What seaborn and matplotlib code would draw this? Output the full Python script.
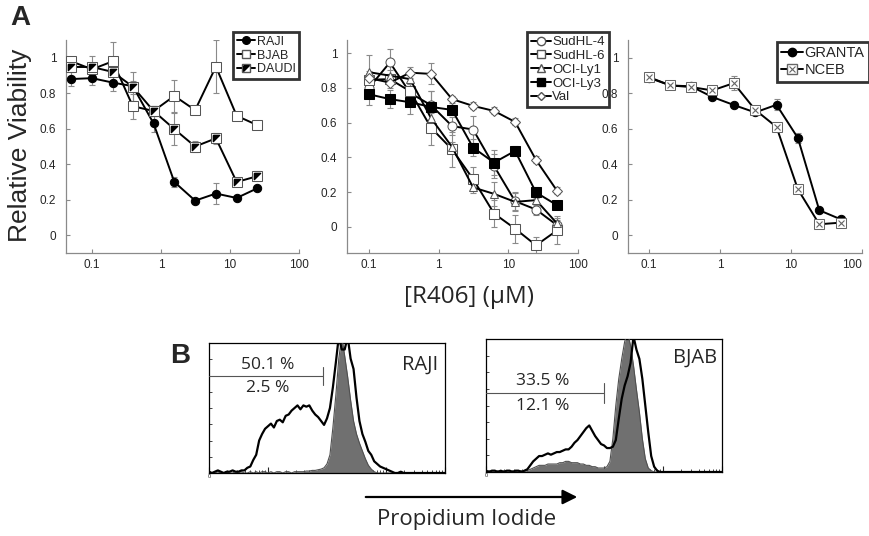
import numpy as np
import matplotlib
matplotlib.use("Agg")
import matplotlib.pyplot as plt
from matplotlib.lines import Line2D
import seaborn as sns

# ---- panel A data: doubling dilutions of R406 (uM) ----
conc_a1 = [0.05, 0.1, 0.2, 0.39, 0.78, 1.56, 3.125, 6.25, 12.5, 25]
conc_a2 = [0.1, 0.2, 0.39, 0.78, 1.56, 3.125, 6.25, 12.5, 25, 50]

raji = [0.88, 0.885, 0.86, 0.84, 0.63, 0.30, 0.195, 0.235, 0.21, 0.265]
raji_err = [0.04, 0.04, 0.05, 0.03, 0.05, 0.03, 0.0, 0.06, 0.0, 0.0]
bjab = [0.98, 0.935, 0.98, 0.727, 0.70, 0.785, 0.705, 0.95, 0.673, 0.62]
bjab_err = [0.02, 0.02, 0.11, 0.07, 0.03, 0.09, 0.0, 0.15, 0.0, 0.0]
daudi = [0.948, 0.948, 0.92, 0.837, 0.70, 0.598, 0.50, 0.546, 0.30, 0.333]
daudi_err = [0.0, 0.06, 0.0, 0.08, 0.03, 0.09, 0.03, 0.03, 0.0, 0.03]

sudhl4 = [0.80, 0.946, 0.77, 0.70, 0.58, 0.56, 0.35, 0.148, 0.10, 0.01]
sudhl4_err = [0.03, 0.08, 0.05, 0.08, 0.05, 0.08, 0.07, 0.05, 0.03, 0.03]
sudhl6 = [0.846, 0.85, 0.78, 0.57, 0.446, 0.275, 0.077, -0.01, -0.106, -0.02]
sudhl6_err = [0.05, 0.03, 0.07, 0.10, 0.10, 0.07, 0.08, 0.08, 0.05, 0.08]
ocily1 = [0.89, 0.87, 0.85, 0.625, 0.46, 0.227, 0.19, 0.144, 0.154, 0.02]
ocily1_err = [0.10, 0.03, 0.03, 0.03, 0.03, 0.03, 0.07, 0.05, 0.03, 0.03]
ocily3 = [0.763, 0.735, 0.717, 0.69, 0.673, 0.456, 0.37, 0.437, 0.198, 0.125]
ocily3_err = [0.06, 0.05, 0.07, 0.09, 0.03, 0.05, 0.07, 0.03, 0.03, 0.02]
val = [0.856, 0.83, 0.887, 0.88, 0.735, 0.696, 0.667, 0.604, 0.385, 0.208]
val_err = [0.03, 0.03, 0.03, 0.06, 0.02, 0.02, 0.02, 0.02, 0.02, 0.02]

granta = [0.887, 0.844, 0.839, 0.779, 0.734, 0.692, 0.735, 0.548, 0.141, 0.09]
granta_err = [0.0, 0.0, 0.0, 0.0, 0.0, 0.0, 0.03, 0.03, 0.0, 0.0]
nceb = [0.891, 0.844, 0.835, 0.816, 0.857, 0.707, 0.61, 0.259, 0.062, 0.071]
nceb_err = [0.0, 0.02, 0.0, 0.0, 0.04, 0.0, 0.0, 0.0, 0.0, 0.0]

# ---- panel B data: PI histograms, log channel (decades), normalised counts ----
pi_decade = np.arange(0, 4.001, 0.05)
raji_treated = [0.01, 0.0, 0.01, 0.02, 0.01, 0.0, 0.01, 0.01, 0.02, 0.01, 0.01, 0.02,
                0.02, 0.04, 0.05, 0.10, 0.14, 0.25, 0.30, 0.34, 0.36, 0.38, 0.35, 0.40,
                0.41, 0.39, 0.44, 0.45, 0.48, 0.50, 0.52, 0.49, 0.52, 0.51, 0.52, 0.48,
                0.45, 0.43, 0.40, 0.37, 0.42, 0.50, 0.66, 0.85, 1.05, 0.95, 0.95, 1.05,
                0.88, 0.80, 0.58, 0.40, 0.30, 0.24, 0.17, 0.14, 0.09, 0.07, 0.05, 0.04,
                0.03, 0.02, 0.01,
                0.0, 0.0, 0.01, 0.0, 0.0, 0.0, 0.0, 0.0, 0.0, 0.0, 0.0, 0.0, 0.0, 0.0,
                0.0, 0.0, 0.0, 0.0]
raji_control = [0.01, 0.0, 0.0, 0.01, 0.0, 0.0, 0.01, 0.0, 0.0, 0.01, 0.0, 0.01, 0.0, 0.0,
                0.01, 0.0, 0.01, 0.0, 0.01, 0.01, 0.0, 0.01, 0.0, 0.01, 0.01, 0.0, 0.01,
                0.01, 0.0, 0.01,
                0.01, 0.01, 0.01, 0.015, 0.015, 0.02, 0.02, 0.025, 0.03, 0.04, 0.07, 0.14,
                0.35, 0.60, 0.88, 1.05, 0.90, 0.74, 0.56, 0.40, 0.30, 0.23, 0.17, 0.11,
                0.06, 0.03, 0.01,
                0.0, 0.0, 0.0, 0.0, 0.0, 0.0, 0.0, 0.0, 0.0, 0.0, 0.0, 0.0, 0.0, 0.0,
                0.0, 0.0, 0.0, 0.0, 0.0, 0.0, 0.0, 0.0, 0.0, 0.0]
bjab_treated = [0.01, 0.0, 0.01, 0.01, 0.0, 0.01, 0.0, 0.01, 0.01, 0.0, 0.01, 0.01, 0.0,
                0.01,
                0.02, 0.05, 0.08, 0.10, 0.12, 0.12, 0.13, 0.14, 0.13, 0.14, 0.15, 0.15,
                0.16, 0.17, 0.17, 0.19, 0.22, 0.24, 0.27, 0.30, 0.33, 0.35, 0.31, 0.27,
                0.24, 0.21, 0.20, 0.18, 0.18, 0.19, 0.24, 0.40, 0.55, 0.65, 0.72, 0.82,
                1.02, 0.92, 0.85, 0.70, 0.50, 0.30, 0.12, 0.04, 0.01,
                0.0, 0.0, 0.0, 0.0, 0.0, 0.0, 0.0, 0.0, 0.0, 0.0, 0.0, 0.0, 0.0, 0.0,
                0.0, 0.0, 0.0, 0.0, 0.0, 0.0, 0.0, 0.0]
bjab_control = [0.0, 0.01, 0.0, 0.0, 0.01, 0.0, 0.01, 0.0, 0.0, 0.01, 0.0, 0.01, 0.01,
                0.01, 0.01,
                0.02, 0.03, 0.04, 0.05, 0.05, 0.05, 0.06, 0.06, 0.06, 0.06, 0.07, 0.07,
                0.08, 0.08, 0.07, 0.07, 0.07, 0.06, 0.06, 0.05, 0.05, 0.04, 0.04, 0.03,
                0.03, 0.03, 0.04, 0.08, 0.25, 0.50, 0.70, 0.85, 0.98, 1.05, 0.95, 0.80,
                0.62, 0.45, 0.25, 0.10, 0.03, 0.01,
                0.0, 0.0, 0.0, 0.0, 0.0, 0.0, 0.0, 0.0, 0.0, 0.0, 0.0, 0.0, 0.0, 0.0,
                0.0, 0.0, 0.0, 0.0, 0.0, 0.0, 0.0, 0.0, 0.0, 0.0]
raji_gate = 85
bjab_gate = 100
raji_pcts = ["50.1 %", "2.5 %"]
bjab_pcts = ["33.5 %", "12.1 %"]

sns.set_style("ticks")
plt.rcParams["font.family"] = ["Liberation Sans", "DejaVu Sans"]
HUMANIST = ["Open Sans", "DejaVu Sans"]
GREY = "#8a8a8a"
EDGE = "#555555"

fig = plt.figure(figsize=(8.69, 5.36), dpi=100)
W, H = 869.0, 536.0


def px_axes(l, t, r, b):
    return fig.add_axes([l / W, 1 - b / H, (r - l) / W, (b - t) / H])


# half-filled square marker (upper triangle black)
half_tri = [(-1, 1), (1, 1), (-1, -1), (-1, 1)]


def style_a(ax, ylim):
    ax.set_xscale("log")
    ax.set_ylim(*ylim)
    ax.set_yticks([0, 0.2, 0.4, 0.6, 0.8, 1])
    ax.set_yticklabels(["0", "0.2", "0.4", "0.6", "0.8", "1"])
    ax.set_xticks([0.1, 1, 10, 100])
    ax.set_xticklabels(["0.1", "1", "10", "100"])
    ax.xaxis.set_minor_locator(matplotlib.ticker.NullLocator())
    ax.tick_params(direction="in", length=3, width=0.8, color=GREY, labelsize=8.5)
    ax.tick_params(axis="y", pad=7)
    ax.tick_params(axis="x", pad=4)
    for s in ["top", "right"]:
        ax.spines[s].set_visible(False)
    for s in ["left", "bottom"]:
        ax.spines[s].set_color(GREY)
        ax.spines[s].set_linewidth(0.9)


def curve(ax, x, y, err, **kw):
    ax.errorbar(x, y, yerr=err, fmt="none", ecolor=GREY, elinewidth=0.8,
                capsize=2, capthick=0.8, zorder=2)
    sns.lineplot(x=x, y=y, ax=ax, color="black", linewidth=1.4, sort=False,
                 markersize=kw.pop("ms", 6), zorder=3, **kw)


def legend_box(ax, handles, labels, corner, fs, spacing):
    leg = ax.legend(handles, labels, loc="upper left",
                    bbox_to_anchor=(corner[0] / W, 1 - corner[1] / H),
                    bbox_transform=fig.transFigure, borderaxespad=0,
                    frameon=True, fancybox=False, fontsize=fs,
                    handlelength=1.5, handletextpad=0.1, labelspacing=spacing,
                    borderpad=0.3)
    leg.get_frame().set_edgecolor("black")
    leg.get_frame().set_linewidth(2)
    return leg


def mk(marker, fc, ec="black", ms=6):
    return Line2D([], [], color="black", lw=1.4, marker=marker,
                  markerfacecolor=fc, markeredgecolor=ec, markersize=ms)


# ---- panel A, left ----
ax1 = px_axes(66, 40, 299, 253)
curve(ax1, conc_a1, raji, raji_err, marker="o", markerfacecolor="black",
      markeredgecolor="black")
curve(ax1, conc_a1, bjab, bjab_err, marker="s", markerfacecolor="white",
      markeredgecolor=EDGE, ms=6.5)
curve(ax1, conc_a1, daudi, daudi_err, marker="s", markerfacecolor="white",
      markeredgecolor=EDGE, ms=6.5)
ax1.plot(conc_a1, daudi, ls="none", marker=half_tri, markersize=4.5,
         color="black", zorder=4)
style_a(ax1, (-0.1, 1.1))
ax1.set_xlim(0.042, 100)
legend_box(ax1,
           [mk("o", "black", "black", 5.5), mk("s", "white", EDGE, 6),
            (mk("s", "white", EDGE, 6),
             Line2D([], [], ls="none", marker=half_tri, markersize=4, color="black"))],
           ["RAJI", "BJAB", "DAUDI"], (233, 32), 9, 0.15)

# ---- panel A, middle ----
ax2 = px_axes(347, 40, 578, 253)
curve(ax2, conc_a2, sudhl4, sudhl4_err, marker="o", markerfacecolor="white",
      markeredgecolor=EDGE, ms=6.5)
curve(ax2, conc_a2, sudhl6, sudhl6_err, marker="s", markerfacecolor="white",
      markeredgecolor=EDGE, ms=6.5)
curve(ax2, conc_a2, ocily1, ocily1_err, marker="^", markerfacecolor="white",
      markeredgecolor=EDGE, ms=6)
curve(ax2, conc_a2, ocily3, ocily3_err, marker="s", markerfacecolor="black",
      markeredgecolor="black", ms=6.5)
curve(ax2, conc_a2, val, val_err, marker="D", markerfacecolor="white",
      markeredgecolor=EDGE, ms=5)
style_a(ax2, (-0.15, 1.075))
ax2.set_xlim(0.0485, 100)
legend_box(ax2,
           [mk("o", "white", EDGE, 6), mk("s", "white", EDGE, 6),
            mk("^", "white", EDGE, 5.5), mk("s", "black", "black", 6),
            mk("D", "white", EDGE, 4.5)],
           ["SudHL-4", "SudHL-6", "OCI-Ly1", "OCI-Ly3", "Val"], (527, 32), 9.5, 0.12)

# ---- panel A, right ----
ax3 = px_axes(628, 40, 862, 253)
curve(ax3, conc_a2, granta, granta_err, marker="o", markerfacecolor="black",
      markeredgecolor="black")
curve(ax3, conc_a2, nceb, nceb_err, marker="s", markerfacecolor="white",
      markeredgecolor="#666666", ms=6.5)
ax3.plot(conc_a2, nceb, ls="none", marker="x", markersize=5, color="#666666",
         markeredgewidth=0.8, zorder=4)
style_a(ax3, (-0.1, 1.1))
ax3.set_xlim(0.0506, 100)
ax3.get_xticklabels()[-1].set_horizontalalignment("right")
legend_box(ax3,
           [mk("o", "black", "black", 6),
            (mk("s", "white", "#666666", 6.5),
             Line2D([], [], ls="none", marker="x", markersize=5, color="#666666",
                    markeredgewidth=0.8))],
           ["GRANTA", "NCEB"], (777, 42), 10.5, 0.2)

fig.text(20 / W, 1 - 145 / H, "Relative Viability", rotation=90, ha="center",
         va="center", fontsize=19)
fig.text(10 / W, 1 - 18 / H, "A", fontsize=20, fontweight="bold", va="center")
fig.text(469 / W, 1 - 297 / H, "[R406] (\u03bcM)", fontsize=17.5, ha="center",
         va="center", family=HUMANIST)

# ---- panel B ----
def flow_panel(ax, treated, control, gate, pcts, name, txt):
    chan = 10 ** pi_decade
    ax.set_xscale("log")
    ax.fill_between(chan, control, color="#707070", lw=0, zorder=2)
    sns.lineplot(x=chan, y=control, ax=ax, color="#505050", linewidth=0.8, zorder=3)
    sns.lineplot(x=chan, y=treated, ax=ax, color="black", linewidth=1.6, zorder=4)
    ax.set_xlim(1, 10 ** 4)
    ax.set_ylim(0, 1)
    ax.set_xticks([1, 10, 100, 1000, 10000])
    ax.set_xticklabels(["0", "", "", "", ""])
    ax.tick_params(axis="x", which="major", direction="in", length=4, width=0.8,
                   labelsize=4, pad=1)
    ax.tick_params(axis="x", which="minor", direction="in", length=2.5, width=0.6)
    ax.set_yticks(np.arange(0, 1.01, 0.125))
    ax.set_yticklabels([])
    ax.tick_params(axis="y", direction="in", length=2.5, width=0.6)
    for s in ax.spines.values():
        s.set_color("black")
        s.set_linewidth(0.9)
    gy, gt, gb = txt["gate_y"]
    ax.plot([1, gate], [gy, gy], color=EDGE, lw=0.8, zorder=5)
    ax.plot([gate, gate], [gb, gt], color=EDGE, lw=0.8, zorder=5)
    ax.text(txt["pct_x"], txt["pct_y"][0], pcts[0], transform=ax.transAxes,
            ha="center", va="center", fontsize=12.5, family=HUMANIST)
    ax.text(txt["pct_x"], txt["pct_y"][1], pcts[1], transform=ax.transAxes,
            ha="center", va="center", fontsize=12.5, family=HUMANIST)
    ax.text(txt["name_xy"][0], txt["name_xy"][1], name, transform=ax.transAxes,
            ha="right", va="center", fontsize=14.5, family=HUMANIST)


axb1 = px_axes(209, 343, 445, 473)
flow_panel(axb1, raji_treated, raji_control, raji_gate, raji_pcts, "RAJI",
           {"gate_y": (0.746, 0.815, 0.677), "pct_x": 0.25, "pct_y": (0.83, 0.654),
            "name_xy": (0.97, 0.83)})
axb2 = px_axes(486, 339, 722, 472)
flow_panel(axb2, bjab_treated, bjab_control, bjab_gate, bjab_pcts, "BJAB",
           {"gate_y": (0.594, 0.669, 0.519), "pct_x": 0.242, "pct_y": (0.684, 0.496),
            "name_xy": (0.979, 0.857)})

fig.text(170 / W, 1 - 356 / H, "B", fontsize=20, fontweight="bold", va="center")
fig.add_artist(matplotlib.patches.FancyArrowPatch(
    (363 / W, 1 - 497 / H), (580 / W, 1 - 497 / H), transform=fig.transFigure,
    arrowstyle="-|>", mutation_scale=22, color="black", lw=1.6))
fig.text(467 / W, 1 - 520 / H, "Propidium Iodide", fontsize=16, ha="center",
         va="center", family=HUMANIST)

fig.savefig("out.png", dpi=100)
